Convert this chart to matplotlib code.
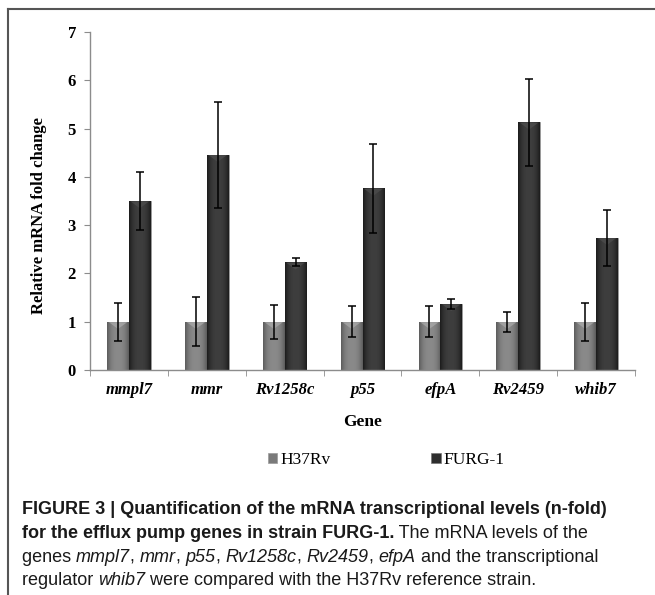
import numpy as np
import matplotlib
matplotlib.use("Agg")
import matplotlib.pyplot as plt
from matplotlib.lines import Line2D
from matplotlib.patches import Patch

genes = ["mmpl7", "mmr", "Rv1258c", "p55", "efpA", "Rv2459", "whib7"]
h37rv = [1.0, 1.0, 1.0, 1.0, 1.0, 1.0, 1.0]
h37rv_err = [0.39, 0.51, 0.35, 0.32, 0.32, 0.21, 0.39]
furg1 = [3.50, 4.46, 2.23, 3.76, 1.37, 5.13, 2.74]
furg1_err = [0.60, 1.10, 0.08, 0.92, 0.10, 0.90, 0.58]
series_names = ["H37Rv", "FURG-1"]
yticks = [0, 1, 2, 3, 4, 5, 6, 7]

W, H = 655, 595
fig = plt.figure(figsize=(W / 100, H / 100), dpi=100)
ax = fig.add_axes([90 / W, 1 - 370 / H, 545 / W, 338 / H])

SERIF = "Liberation Serif"
SANS = "Liberation Sans"

x = np.arange(len(genes))
bw = 0.28
off = 0.14


def grad_bars(xpos, vals, edge, center):
    bars = ax.bar(xpos, vals, width=bw, color=center, edgecolor="#9a9a9a",
                  linewidth=0.6, zorder=2)
    t = np.linspace(0, 1, 64)
    prof = 1 - np.abs(2 * t - 1) ** 2.5
    e = np.array(matplotlib.colors.to_rgb(edge))
    c = np.array(matplotlib.colors.to_rgb(center))
    row = e[None, :] + (c - e)[None, :] * prof[:, None]
    img = np.repeat(row[None, :, :], 4, axis=0)
    for b in bars:
        x0, w, h = b.get_x(), b.get_width(), b.get_height()
        im = ax.imshow(img, extent=(x0, x0 + w, 0, h), aspect="auto",
                       zorder=2.5, interpolation="bilinear")
        im.set_clip_path(b)
        ax.fill([x0 + w * 0.08, x0 + w * 0.92, x0 + w * 0.5],
                [h - 0.01, h - 0.01, h - 0.15],
                color=np.clip(c * 1.25, 0, 1), alpha=0.7,
                zorder=2.6, lw=0)
    return bars


grad_bars(x - off, h37rv, "#5c5c5c", "#8a8a8a")
grad_bars(x + off, furg1, "#1c1c1c", "#3e3e3e")

ax.errorbar(x - off, h37rv, yerr=h37rv_err, fmt="none", ecolor="black",
            elinewidth=1.1, capsize=3, capthick=1.1, zorder=4)
ax.errorbar(x + off, furg1, yerr=furg1_err, fmt="none", ecolor="black",
            elinewidth=1.1, capsize=3, capthick=1.1, zorder=4)

ax.set_xlim(-0.5, len(genes) - 0.5)
ax.set_ylim(0, 7)
ax.set_yticks(yticks)
ax.set_yticklabels([str(v) for v in yticks], fontfamily=SERIF,
                   fontweight="bold", fontsize=12)
ax.set_xticks(x)
ax.set_xticklabels(genes, fontfamily=SERIF, fontweight="bold",
                   fontstyle="italic", fontsize=12)
ax.set_xticks(np.arange(-0.5, len(genes)), minor=True)
ax.tick_params(axis="x", which="major", length=0, pad=9)
ax.tick_params(axis="x", which="minor", length=4, color="#8c8c8c",
               direction="out")
ax.tick_params(axis="y", length=4, color="#8c8c8c", pad=6)
for s in ["top", "right"]:
    ax.spines[s].set_visible(False)
for s in ["left", "bottom"]:
    ax.spines[s].set_color("#8c8c8c")
    ax.spines[s].set_linewidth(1.0)

fig.text(39 / W, 1 - 216 / H, "Relative mRNA fold change", rotation=90,
         ha="center", va="center", fontfamily=SERIF, fontweight="bold",
         fontsize=12)
fig.text(363 / W, 1 - 422 / H, "Gene", ha="center", va="center",
         fontfamily=SERIF, fontweight="bold", fontsize=12.5)

handles = [Patch(facecolor="#7a7a7a", edgecolor="#9a9a9a", lw=0.5),
           Patch(facecolor="#2e2e2e", edgecolor="#777777", lw=0.5)]
fig.legend(handles, series_names, loc="center",
           bbox_to_anchor=(386 / W, 1 - 460 / H),
           ncol=2, frameon=False, handlelength=0.55, handleheight=0.55,
           handletextpad=0.15, columnspacing=5.8,
           prop={"family": SERIF, "size": 12.5})

# frame
fig.add_artist(Line2D([8 / W, 1.0], [1 - 9 / H, 1 - 9 / H], color="#555555",
                      lw=1.5, transform=fig.transFigure))
fig.add_artist(Line2D([8 / W, 8 / W], [1 - 9 / H, 0.0], color="#555555",
                      lw=1.5, transform=fig.transFigure))

fig.canvas.draw()
renderer = fig.canvas.get_renderer()


def rich(xpx, ypx, pieces, size=13):
    for txt, weight, style in pieces:
        t = fig.text(xpx / W, 1 - ypx / H, txt, fontsize=size,
                     fontweight=weight, fontstyle=style, fontfamily=SANS,
                     ha="left", va="baseline", color="#1a1a1a")
        bb = t.get_window_extent(renderer)
        xpx += bb.width


B, N = "bold", "normal"
rich(22, 514, [("FIGURE 3 | Quantification of the mRNA transcriptional levels (n-fold)", B, N)])
rich(22, 538, [("for the efflux pump genes in strain FURG-1.", B, N),
               (" The mRNA levels of the", N, N)])
rich(22, 562, [("genes ", N, N), ("mmpl7", N, "italic"), (", ", N, N),
               ("mmr", N, "italic"), (", ", N, N), ("p55", N, "italic"),
               (", ", N, N), ("Rv1258c", N, "italic"), (", ", N, N),
               ("Rv2459", N, "italic"), (", ", N, N), ("efpA", N, "italic"),
               (" and the transcriptional", N, N)])
rich(22, 585, [("regulator ", N, N), ("whib7", N, "italic"),
               (" were compared with the H37Rv reference strain.", N, N)])

fig.savefig("out.png", dpi=100)
